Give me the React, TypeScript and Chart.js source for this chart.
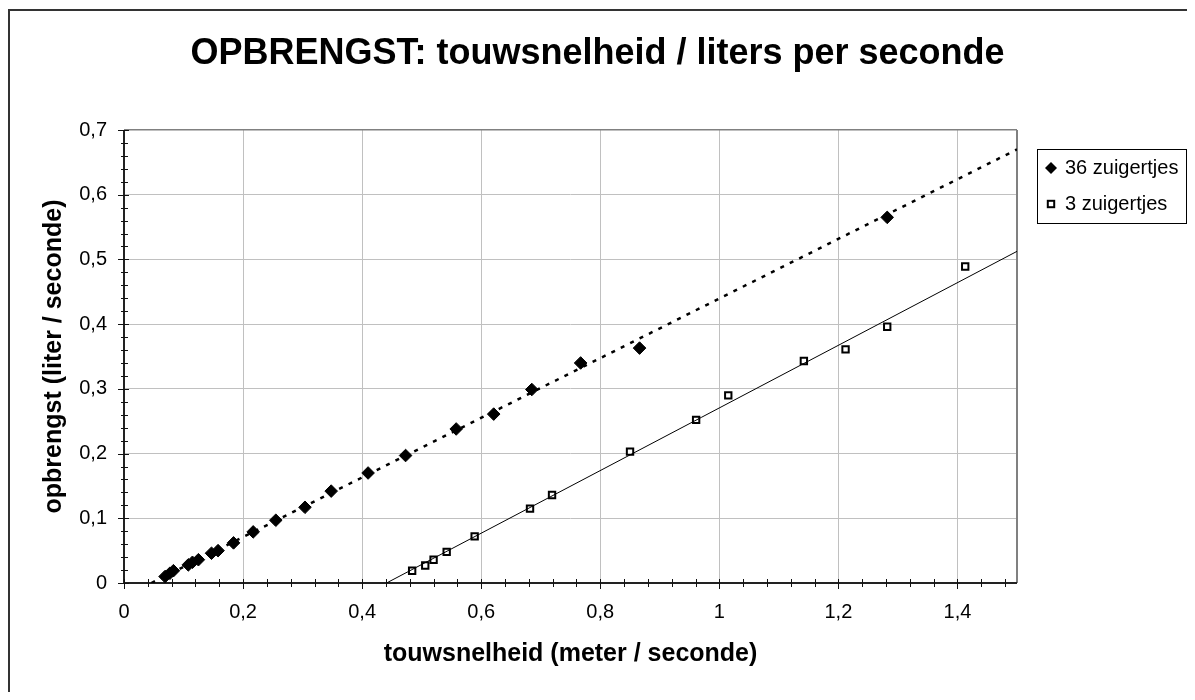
import React, { useEffect, useRef } from "react";
import { Chart, registerables } from "chart.js";

Chart.register(...registerables);

// ---- Data ----
const x36 = [0.069, 0.077, 0.083, 0.108, 0.115, 0.125, 0.147, 0.158, 0.184, 0.217, 0.255, 0.304, 0.348, 0.41, 0.473, 0.558, 0.621, 0.685, 0.767, 0.866, 1.282];
const y36 = [0.01, 0.015, 0.019, 0.028, 0.032, 0.036, 0.046, 0.05, 0.062, 0.079, 0.097, 0.117, 0.142, 0.17, 0.197, 0.238, 0.261, 0.299, 0.34, 0.363, 0.565];

const x3 = [0.484, 0.506, 0.52, 0.542, 0.589, 0.682, 0.719, 0.85, 0.961, 1.015, 1.142, 1.212, 1.282, 1.413];
const y3 = [0.019, 0.027, 0.036, 0.048, 0.072, 0.115, 0.136, 0.203, 0.252, 0.29, 0.343, 0.361, 0.396, 0.489];

// trendline end points
const trend36X = [0.046, 1.5];
const trend36Y = [0, 0.67];
const trend3X = [0.441, 1.5];
const trend3Y = [0, 0.5125];

const seriesLabels = ["36 zuigertjes", "3 zuigertjes"];
const titleText = "OPBRENGST: touwsnelheid / liters per seconde";
const xTitle = "touwsnelheid (meter / seconde)";
const yTitle = "opbrengst (liter / seconde)";

const FONT = "'Liberation Sans', Arial, Helvetica, sans-serif";

const toPts = (xs: number[], ys: number[]) => xs.map((x, i) => ({ x, y: ys[i] }));
const fmt = (v: number) => {
  const r = Math.round(v * 10) / 10;
  return String(r).replace(".", ",");
};

const decorPlugin = {
  id: "decor",
  beforeDraw(chart: any) {
    const ctx = chart.ctx;
    ctx.save();
    ctx.fillStyle = "#333";
    ctx.fillRect(0, 1, chart.width, 2);
    ctx.fillRect(0, 1, 2, chart.height);
    ctx.restore();
  },
  beforeDatasetsDraw(chart: any) {
    const { ctx, chartArea: a, scales } = chart;
    const xs = scales.x;
    const ys = scales.y;
    ctx.save();
    // right border of plot
    ctx.strokeStyle = "#808080";
    ctx.lineWidth = 2;
    ctx.beginPath();
    ctx.moveTo(a.right, a.top);
    ctx.lineTo(a.right, a.bottom);
    ctx.stroke();
    // axes
    ctx.strokeStyle = "#222";
    ctx.lineWidth = 2;
    ctx.beginPath();
    ctx.moveTo(a.left, a.top);
    ctx.lineTo(a.left, a.bottom);
    ctx.lineTo(a.right, a.bottom);
    ctx.stroke();
    // tick marks
    ctx.lineWidth = 1;
    ctx.strokeStyle = "#111";
    ctx.beginPath();
    for (let k = 0; k * 0.04 <= 1.5 + 1e-9; k++) {
      const v = k * 0.04;
      const px = Math.round(xs.getPixelForValue(v)) + 0.5;
      const major = k % 5 === 0;
      ctx.moveTo(px, a.bottom - 4);
      ctx.lineTo(px, a.bottom + (major ? 6 : 4));
    }
    for (let k = 0; k * 0.02 <= 0.7 + 1e-9; k++) {
      const v = k * 0.02;
      const py = Math.round(ys.getPixelForValue(v)) + 0.5;
      const major = k % 5 === 0;
      ctx.moveTo(a.left + (major ? 5 : 4), py);
      ctx.lineTo(a.left - (major ? 6 : 3), py);
    }
    ctx.stroke();
    ctx.restore();
  },
  afterDraw(chart: any) {
    const ctx = chart.ctx;
    const bx = 1029.5, by = 141.5, bw = 149, bh = 74;
    ctx.save();
    ctx.strokeStyle = "#000";
    ctx.lineWidth = 1;
    ctx.fillStyle = "#fff";
    ctx.fillRect(bx, by, bw, bh);
    ctx.strokeRect(bx, by, bw, bh);
    const mx = 1043;
    const r1 = 160, r2 = 196;
    // diamond
    ctx.fillStyle = "#000";
    ctx.beginPath();
    ctx.moveTo(mx, r1 - 6);
    ctx.lineTo(mx + 6, r1);
    ctx.lineTo(mx, r1 + 6);
    ctx.lineTo(mx - 6, r1);
    ctx.closePath();
    ctx.fill();
    // square
    ctx.fillStyle = "#fff";
    ctx.lineWidth = 2;
    ctx.fillRect(mx - 3.2, r2 - 3.2, 6.4, 6.4);
    ctx.strokeRect(mx - 3.2, r2 - 3.2, 6.4, 6.4);
    ctx.fillStyle = "#000";
    ctx.font = `20px ${FONT}`;
    ctx.textAlign = "left";
    ctx.textBaseline = "middle";
    ctx.fillText(chart.data.datasets[0].label, 1057, r1);
    ctx.fillText(chart.data.datasets[1].label, 1057, r2);
    ctx.restore();
  },
};

export default function App() {
  const ref = useRef<HTMLCanvasElement | null>(null);
  useEffect(() => {
    if (!ref.current) return;
    const chart = new Chart(ref.current, {
      type: "scatter",
      data: {
        datasets: [
          {
            label: seriesLabels[0],
            data: toPts(x36, y36),
            pointStyle: "rectRot",
            pointRadius: 6.3,
            pointBackgroundColor: "#000",
            pointBorderColor: "#000",
            pointBorderWidth: 1,
            showLine: false,
            order: 0,
          },
          {
            label: seriesLabels[1],
            data: toPts(x3, y3),
            pointStyle: "rect",
            pointRadius: 4.5,
            pointBackgroundColor: "#fff",
            pointBorderColor: "#000",
            pointBorderWidth: 2,
            showLine: false,
            order: 0,
          },
          {
            label: "trend 36",
            data: toPts(trend36X, trend36Y),
            showLine: true,
            pointRadius: 0,
            borderColor: "#000",
            borderWidth: 2.5,
            borderDash: [4, 6.5],
            borderCapStyle: "butt",
            order: -1,
          },
          {
            label: "trend 3",
            data: toPts(trend3X, trend3Y),
            showLine: true,
            pointRadius: 0,
            borderColor: "#000",
            borderWidth: 1,
            order: -1,
          },
        ],
      },
      options: {
        responsive: false,
        animation: false,
        events: [],
        layout: { padding: 0 },
        plugins: {
          legend: { display: false },
          tooltip: { enabled: false },
          title: {
            display: true,
            text: titleText,
            color: "#000",
            font: { family: FONT, size: 36, weight: "bold" },
            padding: { top: 24.4, bottom: 54.4 },
          },
        },
        scales: {
          x: {
            type: "linear",
            min: 0,
            max: 1.5,
            border: { display: false },
            grid: {
              color: "#c0c0c0",
              lineWidth: 1,
              drawTicks: false,
            },
            ticks: {
              stepSize: 0.2,
              includeBounds: false,
              padding: 17,
              color: "#000",
              font: { family: FONT, size: 20 },
              maxRotation: 0,
              callback: (v: any) => fmt(Number(v)),
            },
            title: {
              display: true,
              text: xTitle,
              color: "#000",
              font: { family: FONT, size: 25, weight: "bold" },
              padding: { top: 0, bottom: 23 },
            },
            afterFit: (s: any) => {
              s.height = 109;
            },
          },
          y: {
            type: "linear",
            min: 0,
            max: 0.7,
            border: { display: false },
            grid: {
              color: (c: any) =>
                c.tick && Math.abs(c.tick.value - 0.7) < 1e-9 ? "#808080" : "#c0c0c0",
              lineWidth: (c: any) =>
                c.tick && Math.abs(c.tick.value - 0.7) < 1e-9 ? 1.5 : 1,
              drawTicks: false,
            },
            ticks: {
              stepSize: 0.1,
              includeBounds: false,
              padding: 17,
              color: "#000",
              font: { family: FONT, size: 20 },
              callback: (v: any) => fmt(Number(v)),
            },
            title: {
              display: true,
              text: yTitle,
              color: "#000",
              font: { family: FONT, size: 25, weight: "bold" },
              padding: { top: 31, bottom: 0 },
            },
            afterFit: (s: any) => {
              s.width = 116;
            },
          },
          yRight: {
            type: "linear",
            position: "right",
            display: true,
            min: 0,
            max: 0.7,
            border: { display: false },
            grid: { display: false, drawTicks: false },
            ticks: { display: false },
            afterFit: (s: any) => {
              s.width = 170;
            },
          },
        },
      },
      plugins: [decorPlugin],
    } as any);
    return () => chart.destroy();
  }, []);
  return (
    <div style={{ width: 1179, height: 684 }}>
      <canvas ref={ref} width={1179} height={684} style={{ display: "block" }} />
    </div>
  );
}
